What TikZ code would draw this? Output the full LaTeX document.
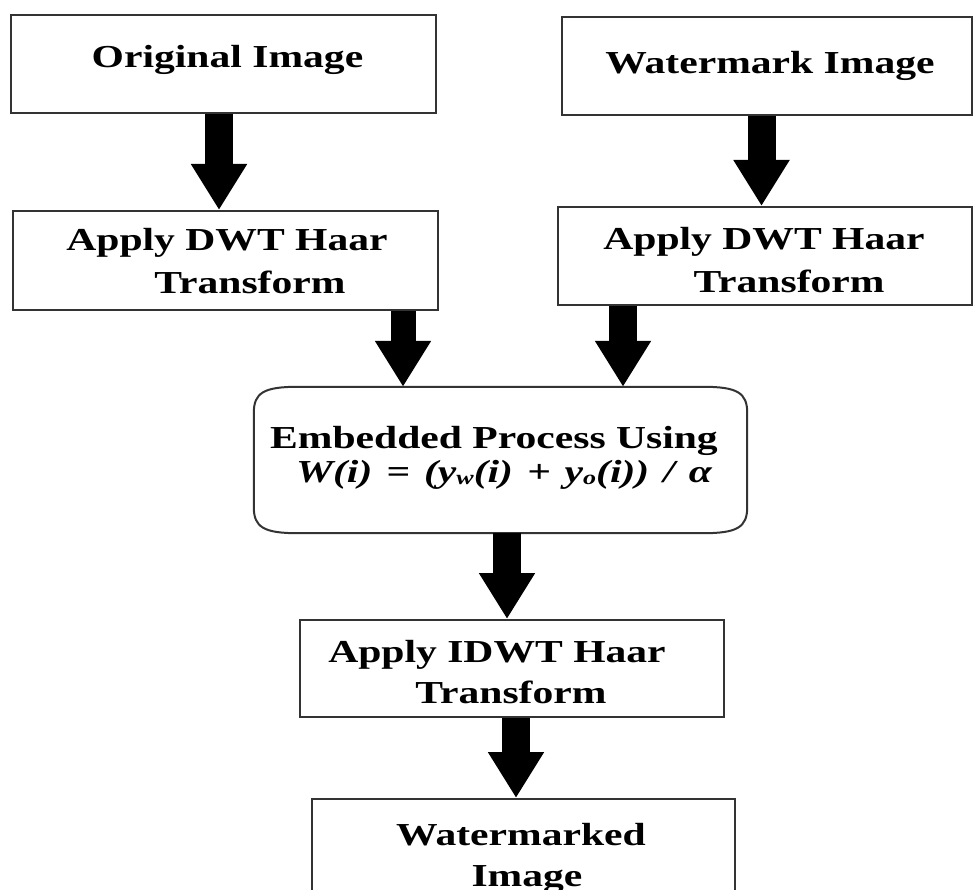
\documentclass[tikz,border=0pt]{standalone}
\usepackage{fontspec}
\setmainfont[FakeStretch=1.3]{Liberation Serif}
\usetikzlibrary{arrows.meta,calc}

\newcommand{\fsp}{\hspace{14pt}}

\begin{document}
\begin{tikzpicture}[x=1pt,y=-1pt,
  boxline/.style={draw=black!80,line width=2pt},
  box/.style={boxline,fill=white,inner sep=0pt,rectangle},
  txt/.style={font=\fontsize{32pt}{34pt}\selectfont\bfseries,inner sep=0pt,anchor=base},
  bigarrow/.style={line width=28pt,draw=black,-{Triangle[width=53pt,length=46pt]}}]

\useasboundingbox (0,0) rectangle (973,890);
\clip (0,0) rectangle (973,890);

% process boxes
\node[box,minimum width=425pt,minimum height=98pt] (orig) at (223.5,64) {};
\node[box,minimum width=410pt,minimum height=98pt] (wm)   at (767,66) {};
\node[box,minimum width=425pt,minimum height=99pt] (dwt1) at (225.5,260.5) {};
\node[box,minimum width=414pt,minimum height=98pt] (dwt2) at (765,256) {};
\node[inner sep=0pt,minimum width=493pt,minimum height=146pt] (emb) at (500.5,460) {};
\node[box,minimum width=424pt,minimum height=97pt] (idwt) at (512,668.5) {};
\node[box,minimum width=423pt,minimum height=100pt] (wmd) at (523.5,849) {};

% embedding step: box with flattened rounded corners
\draw[boxline]
  ($(emb.north west)+(44,0)$) -- ($(emb.north east)+(-44,0)$)
  .. controls ($(emb.north east)+(-10,0)$) and ($(emb.north east)+(0,6)$) .. ($(emb.north east)+(0,26)$)
  -- ($(emb.south east)+(0,-26)$)
  .. controls ($(emb.south east)+(0,-6)$) and ($(emb.south east)+(-10,0)$) .. ($(emb.south east)+(-44,0)$)
  -- ($(emb.south west)+(44,0)$)
  .. controls ($(emb.south west)+(10,0)$) and ($(emb.south west)+(0,-6)$) .. ($(emb.south west)+(0,-26)$)
  -- ($(emb.north west)+(0,26)$)
  .. controls ($(emb.north west)+(0,6)$) and ($(emb.north west)+(10,0)$) .. cycle;

% labels
\node[txt] (t-orig) at (227.5,68) {Original Image};
\node[txt] (t-wm) at (770,74) {Watermark Image};
\node[txt] (t-dwt1a) at (227,251) {Apply DWT Haar};
\node[txt] (t-dwt1b) at (250,293) {Transform};
\node[txt] (t-dwt2a) at (764,250) {Apply DWT Haar};
\node[txt] (t-dwt2b) at (789,292) {Transform};
\node[txt] (t-emba) at (494,448) {Embedded Process Using};
\node[txt] (t-embb) at (504,482) {\itshape W(i)\fsp=\fsp(y\raisebox{-2pt}{\fontsize{20pt}{20pt}\selectfont w}(i)\fsp+\fsp y\raisebox{-2pt}{\fontsize{20pt}{20pt}\selectfont o}(i))\fsp/\fsp α};
\node[txt] (t-idwta) at (497,662) {Apply IDWT Haar};
\node[txt] (t-idwtb) at (511,703) {Transform};
\node[txt] (t-wmda) at (521,845) {Watermarked};
\node[txt] (t-wmdb) at (527,886) {Image};

% block arrows
\draw[bigarrow] ($(orig.south)+(-4.5,0)$) -- ($(orig.south |- dwt1.north)+(-4.5,0)$);
\draw[bigarrow] ($(wm.south)+(-5.5,0)$) -- ($(wm.south |- dwt2.north)+(-5.5,0)$);
\draw[bigarrow,line width=25pt] ($(dwt1.south)+(177.5,0)$) -- ($(dwt1.south |- emb.north)+(177.5,0)$);
\draw[bigarrow] ($(dwt2.south)+(-142,0)$) -- ($(dwt2.south |- emb.north)+(-142,0)$);
\draw[bigarrow] ($(emb.south)+(6.5,0)$) -- ($(emb.south |- idwt.north)+(6.5,0)$);
\draw[bigarrow] ($(idwt.south)+(4,0)$) -- ($(idwt.south |- wmd.north)+(4,0)$);
\end{tikzpicture}
\end{document}
